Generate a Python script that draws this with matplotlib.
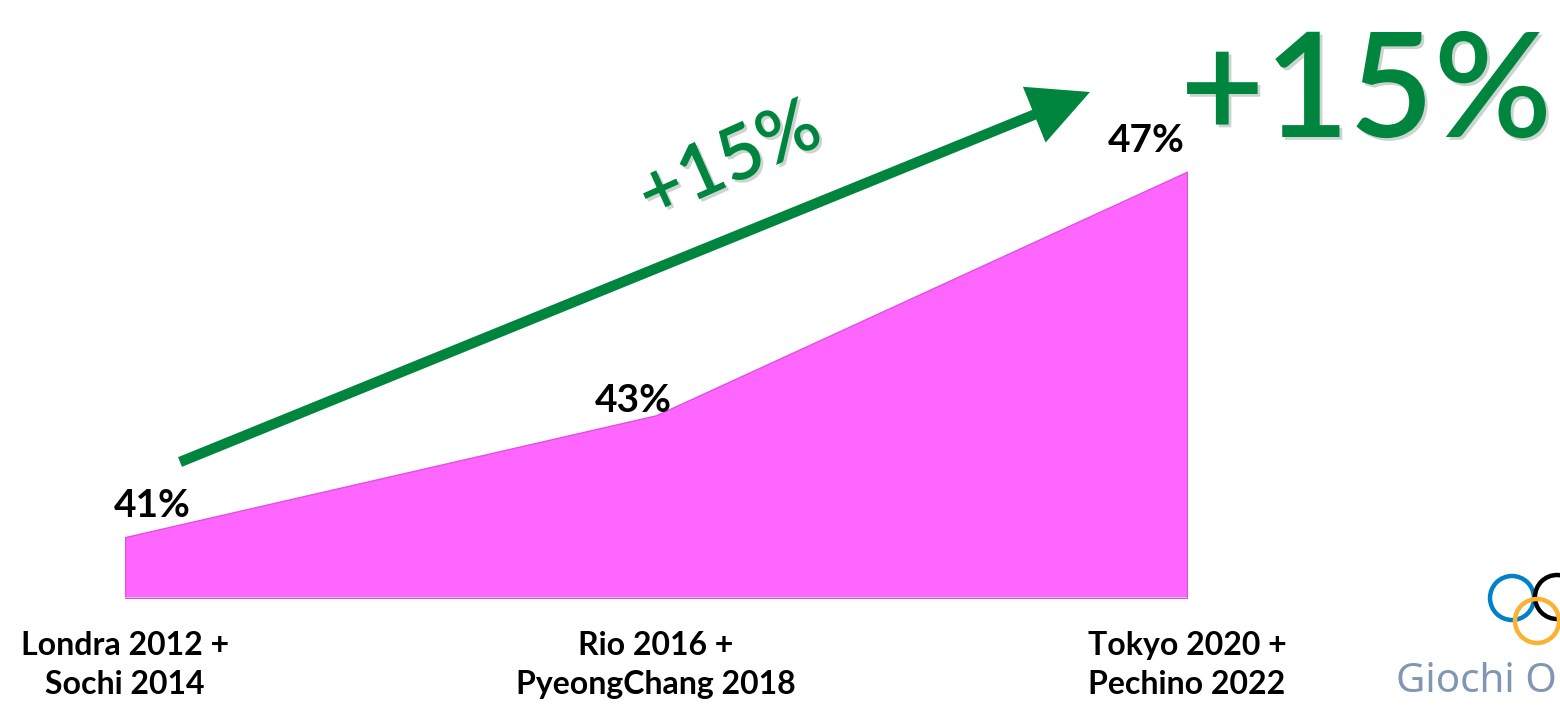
import matplotlib
matplotlib.use("Agg")
import matplotlib.pyplot as plt
import matplotlib.patheffects as pe
from matplotlib.patches import Circle, FancyArrowPatch

# data
categories = ["Londra 2012 +\nSochi 2014", "Rio 2016 +\nPyeongChang 2018", "Tokyo 2020 +\nPechino 2022"]
values = [41, 43, 47]
value_labels = ["41%", "43%", "47%"]
growth_label = "+15%"

PINK = "#FF66FF"
GREEN = "#00853F"
LABEL_FONT = ["Lato", "DejaVu Sans"]
BIG_FONT = ["Lato", "DejaVu Sans"]

fig = plt.figure(figsize=(15.6, 7.06), dpi=100)

# main area chart
ax = fig.add_axes([125 / 1560, 1 - 598 / 706, (1187 - 125) / 1560, 598 / 706])
x = list(range(len(values)))
ax.fill_between(x, 40, values, color=PINK, edgecolor="#E050E0", linewidth=1)
ax.axhline(40, color="#D0D0D0", lw=2, zorder=3)
ax.set_xlim(0, len(values) - 1)
ax.set_ylim(40, 49.82)
ax.set_yticks([])
ax.set_xticks(x)
ax.set_xticklabels(categories, fontsize=23, fontweight="bold", family=LABEL_FONT, linespacing=1.4)
ax.tick_params(axis="x", length=0, pad=24)
for s in ax.spines.values():
    s.set_visible(False)
ax.patch.set_alpha(0)

# value labels, offset like the original (pixels, to text baseline)
offsets = [(27, 20), (-23, 3), (-41, 20)]
for xi, v, lab, off in zip(x, values, value_labels, offsets):
    ax.annotate(lab, (xi, v), xytext=(off[0] * 0.72, off[1] * 0.72), textcoords="offset points",
                ha="center", va="baseline", fontsize=28, fontweight="bold", family=LABEL_FONT,
                color="black", annotation_clip=False)

# overlay in pixel coordinates for decorations
ov = fig.add_axes([0, 0, 1, 1])
ov.set_xlim(0, 1560)
ov.set_ylim(706, 0)
ov.axis("off")
ov.patch.set_alpha(0)

shadow = [pe.SimplePatchShadow(offset=(1.5, -1.5), alpha=0.25), pe.Normal()]
txt_shadow = [pe.withSimplePatchShadow(offset=(2, -2), alpha=0.2)]

arrow = FancyArrowPatch((180, 462), (1090, 92), arrowstyle="-|>,head_length=2.6,head_width=1.3",
                        mutation_scale=12, color=GREEN, lw=7.5, shrinkA=0, shrinkB=0,
                        joinstyle="miter", capstyle="butt")
arrow.set_path_effects(shadow)
ov.add_patch(arrow)

ov.text(730, 162, growth_label, rotation=24, rotation_mode="anchor", ha="center", va="center",
        fontsize=54, color=GREEN, family=BIG_FONT, fontweight="semibold", path_effects=txt_shadow)

ov.text(1180, 137, growth_label, ha="left", va="baseline", fontsize=105, color=GREEN,
        family=BIG_FONT, fontweight="semibold", path_effects=txt_shadow)

# olympic logo (partially cut off at the right edge, as in the original)
rings = [((1512, 598), "#0081C8"), ((1557, 597), "black"), ((1537, 621), "#FCB131")]
for (cx, cy), c in rings:
    ov.add_patch(Circle((cx, cy), 22, fill=False, ec=c, lw=3.2))
ov.text(1396, 692, "Giochi Olimpici", ha="left", va="baseline", fontsize=29,
        color="#8097B4", family=["Noto Sans", "DejaVu Sans"])

fig.savefig("out.png", dpi=100)
